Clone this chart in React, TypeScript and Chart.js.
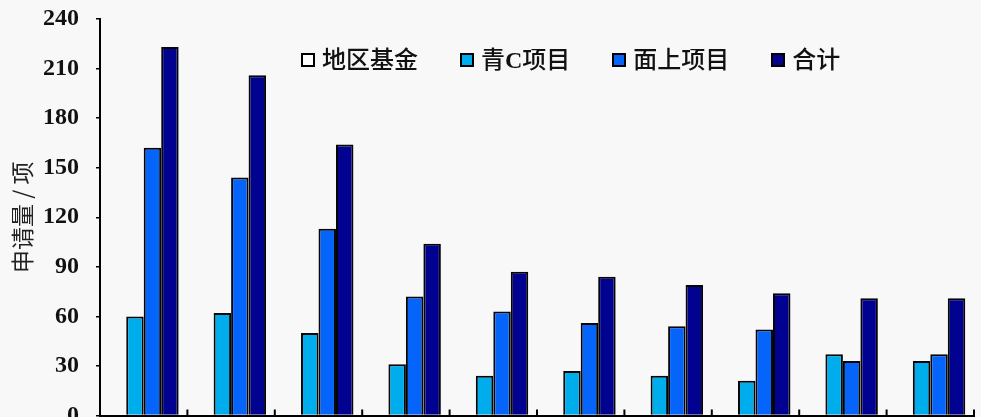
import { useEffect, useRef } from "react";
import { Chart, registerables } from "chart.js";

Chart.register(...registerables);

// category labels sit below the cropped edge of the picture
const categories = ["1", "2", "3", "4", "5", "6", "7", "8", "9", "10"];
const regionFund = [0, 0, 0, 0, 0, 0, 0, 0, 0, 0];
const youthC = [60, 62, 50, 31, 24, 27, 24, 21, 37, 33];
const general = [162, 144, 113, 72, 63, 56, 54, 52, 33, 37];
const total = [223, 206, 164, 104, 87, 84, 79, 74, 71, 71];
const yTicks = [0, 30, 60, 90, 120, 150, 180, 210, 240];

const seriesLabels = ["地区基金", "青C项目", "面上项目", "合计"];
const seriesColors = ["#ffffff", "#00adec", "#0565fb", "#020290"];
const seriesData = [regionFund, youthC, general, total];

// short tick marks pointing up from the x axis, at category boundaries
const innerTicks = {
  id: "innerTicks",
  afterDatasetsDraw(chart: any) {
    const x = chart.scales.x;
    const { ctx, chartArea } = chart;
    ctx.save();
    ctx.strokeStyle = "#000";
    ctx.lineWidth = 2;
    for (let i = 0; i <= categories.length; i++) {
      const px = x.getPixelForValue(i - 0.5);
      ctx.beginPath();
      ctx.moveTo(px, chartArea.bottom);
      ctx.lineTo(px, chartArea.bottom - 6);
      ctx.stroke();
    }
    ctx.restore();
  },
};

function BarChart() {
  const canvasRef = useRef<HTMLCanvasElement>(null);
  const chartRef = useRef<Chart | null>(null);

  useEffect(() => {
    if (!canvasRef.current) return;
    chartRef.current?.destroy();
    chartRef.current = new Chart(canvasRef.current, {
      type: "bar",
      data: {
        labels: categories,
        datasets: seriesData.map((d, i) => ({
          label: seriesLabels[i],
          data: d,
          backgroundColor: seriesColors[i],
          borderColor: "#050505",
          borderWidth: 2,
          categoryPercentage: 0.8,
          barPercentage: 1,
        })),
      },
      options: {
        animation: false,
        responsive: true,
        maintainAspectRatio: false,
        layout: { padding: { top: 19, right: 7, bottom: 1.5, left: 0 } },
        plugins: { legend: { display: false }, tooltip: { enabled: false } },
        scales: {
          x: {
            ticks: { display: false },
            grid: { display: false, drawTicks: false },
            border: { display: true, color: "#000", width: 2 },
            afterFit: (s: any) => {
              s.height = 0;
            },
          },
          y: {
            min: 0,
            max: 240,
            afterBuildTicks: (s: any) => {
              s.ticks = yTicks.map((v) => ({ value: v }));
            },
            afterFit: (s: any) => {
              s.width = 100;
              s.paddingTop = 0;
              s.paddingBottom = 0;
            },
            ticks: {
              color: "#111",
              padding: 17,
              font: { family: '"Liberation Serif", "Times New Roman", serif', size: 24, weight: "bold" },
            },
            grid: { display: true, drawOnChartArea: false, drawTicks: true, tickLength: 4, color: "#000", lineWidth: 1.5 },
            border: { display: true, color: "#000", width: 2 },
            title: {
              display: true,
              text: "申请量 / 项",
              color: "#222",
              padding: { top: 8, bottom: 0 },
              font: { family: '"Noto Sans CJK SC", sans-serif', size: 23, weight: "normal" },
            },
          },
        },
      },
      plugins: [innerTicks],
    });
    return () => chartRef.current?.destroy();
  }, []);

  return <canvas ref={canvasRef} />;
}

// latin letters in the legend are set in bold serif, the rest in medium CJK
function LegendText({ text }: { text: string }) {
  return (
    <span>
      {text.split(/([A-Za-z]+)/).map((part, i) =>
        /[A-Za-z]/.test(part) ? (
          <b key={i} style={{ fontWeight: "bold" }}>{part}</b>
        ) : (
          <span key={i}>{part}</span>
        )
      )}
    </span>
  );
}

export default function App() {
  return (
    <div style={{ position: "fixed", inset: 0, background: "#f8f8f8", overflow: "hidden" }}>
      <div style={{ position: "relative", width: 981, height: 417 }}>
        <BarChart />
        <div
          style={{
            position: "absolute",
            left: 301,
            top: 45,
            height: 30,
            display: "flex",
            alignItems: "center",
            gap: 42,
            fontFamily: '"Liberation Serif", "Noto Sans CJK SC", serif',
            fontSize: 24,
            fontWeight: 500,
            color: "#111",
            lineHeight: "30px",
            whiteSpace: "nowrap",
          }}
        >
          {seriesLabels.map((label, i) => (
            <div key={label} style={{ display: "flex", alignItems: "center" }}>
              <span
                style={{
                  display: "inline-block",
                  width: 14,
                  height: 14,
                  boxSizing: "border-box",
                  border: "2px solid #000",
                  background: seriesColors[i],
                  marginRight: 7,
                }}
              />
              <LegendText text={label} />
            </div>
          ))}
        </div>
      </div>
    </div>
  );
}
